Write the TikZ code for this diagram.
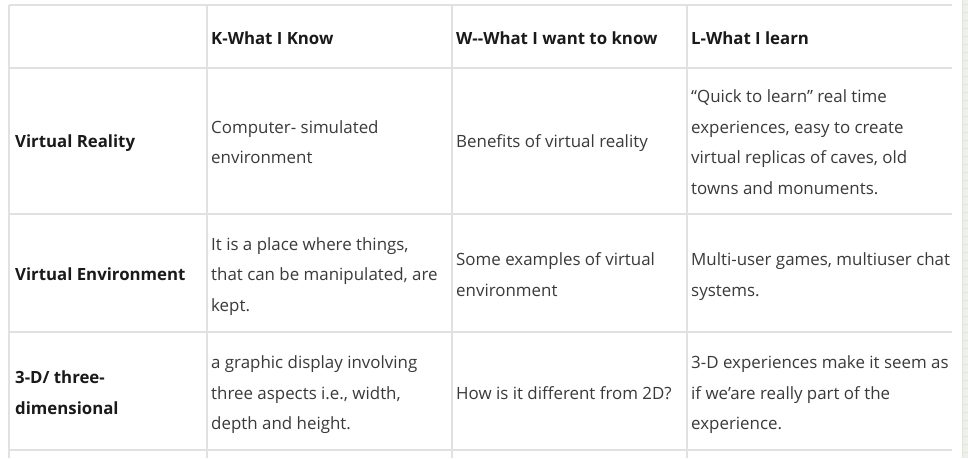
\documentclass[tikz,border=0pt]{standalone}
\usepackage{fontspec}
\setmainfont{Open Sans}
\definecolor{gridline}{HTML}{E1E1E1}
\definecolor{bodytext}{HTML}{3A3A3A}
\definecolor{headtext}{HTML}{1A1A1A}
\definecolor{stripfill}{HTML}{EEF0EA}
\definecolor{stripline}{HTML}{E2E5DC}
\newcommand{\bodyfnt}{\fontsize{16.9}{30.5}\selectfont}
\newcommand{\headfnt}{\fontsize{16.8}{30.5}\selectfont\bfseries}
\tikzset{
  cell/.style={anchor=west, align=left, inner sep=0pt, text=bodytext, font=\bodyfnt},
  headcell/.style={cell, text=headtext, font=\headfnt},
  rule/.style={draw=gridline, line width=1.3pt}
}
\begin{document}
\begin{tikzpicture}[x=1pt,y=-1pt]
\useasboundingbox (0,0) rectangle (968,458);
\fill[white] (0,0) rectangle (968,458);
% right strip
\fill[stripfill] (962,0) rectangle (968,458);
\foreach \yy in {4,12,...,458} \draw[stripline, line width=0.5pt] (962,\yy) -- (968,\yy);
\draw[stripline, line width=0.6pt] (962,0) -- (962,458);
% grid coordinates
\coordinate (t0) at (9,5);   \coordinate (t1) at (952,5);
\coordinate (h0) at (9,68);  \coordinate (h1) at (952,68);
\coordinate (r0) at (9,214); \coordinate (r1) at (952,214);
\coordinate (s0) at (9,332); \coordinate (s1) at (952,332);
\coordinate (b0) at (9,450); \coordinate (b1) at (952,450);
\coordinate (va0) at (9,5);   \coordinate (va1) at (9,458);
\coordinate (vb0) at (207,5); \coordinate (vb1) at (207,458);
\coordinate (vc0) at (452,5); \coordinate (vc1) at (452,458);
\coordinate (vd0) at (687,5); \coordinate (vd1) at (687,458);
\draw[rule] (t0) -- (t1);
\draw[rule] (h0) -- (h1);
\draw[rule] (r0) -- (r1);
\draw[rule] (s0) -- (s1);
\draw[rule] (b0) -- (b1);
\draw[rule] (va0) -- (va1);
\draw[rule] (vb0) -- (vb1);
\draw[rule] (vc0) -- (vc1);
\draw[rule] (vd0) -- (vd1);
% header
\node[headcell] (hk) at (211,38) {K-What I Know};
\node[headcell] (hw) at (456,38) {W-{}-What I want to know};
\node[headcell] (hl) at (691,38) {L-What I learn};
% row 1
\node[headcell] (vr) at (15,143) {Virtual Reality};
\node[cell] (vrk) at (211,142) {Computer- simulated\\environment};
\node[cell] (vrw) at (456,143) {Benefits of virtual reality};
\node[cell] (vrl) at (691,142) {“Quick to learn” real time\\experiences, easy to create\\virtual replicas of caves, old\\towns and monuments.};
% row 2
\node[headcell] (ve) at (15,274) {Virtual Environment};
\node[cell] (vek) at (211,276.5) {It is a place where things,\\that can be manipulated, are\\kept.};
\node[cell] (vew) at (456,274.5) {Some examples of virtual\\environment};
\node[cell] (vel) at (691,276.5) {Multi-user games, multiuser chat\\systems.};
% row 3
\node[headcell] (td) at (15,392.5) {3-D/ three-\\dimensional};
\node[cell] (tdk) at (211,395) {a graphic display involving\\three aspects i.e., width,\\depth and height.};
\node[cell] (tdw) at (456,393) {How is it different from 2D?};
\node[cell] (tdl) at (691,395) {3-D experiences make it seem as\\if we’are really part of the\\experience.};
\end{tikzpicture}
\end{document}
